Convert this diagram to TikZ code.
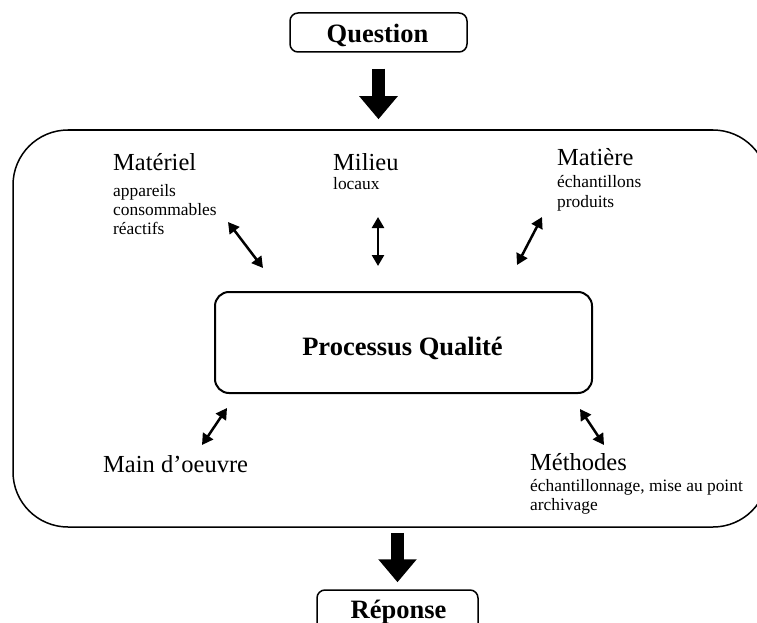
\documentclass[tikz,border=0pt]{standalone}
\usepackage{fontspec}
\setmainfont{Liberation Serif}
\usetikzlibrary{arrows.meta}
\tikzset{
  boxline/.style={draw, line width=1.5pt, inner sep=0pt},
  titletxt/.style={anchor=base, inner sep=0pt, font=\fontsize{26.5}{28}\selectfont\bfseries},
  maintxt/.style={anchor=base west, inner sep=0pt, font=\fontsize{24.5}{26}\selectfont},
  subtxt/.style={anchor=base west, inner sep=0pt, font=\fontsize{17.4}{19}\selectfont},
  bigarrow/.style={-{Triangle[length=23pt,width=37pt]}, line width=12.5pt},
  dblarrow/.style={{Triangle[length=11pt,width=12pt]}-{Triangle[length=11pt,width=12pt]}, line width=2.5pt}
}
\begin{document}
\begin{tikzpicture}[x=1pt,y=-1pt]
\useasboundingbox (0,0) rectangle (757,623);
\clip (0,0) rectangle (757,623);
\fill[white] (0,0) rectangle (757,623);

% boxes
\node[boxline, rounded corners=8pt, minimum width=177pt, minimum height=39pt] (q) at (378.5,32.5) {};
\node[titletxt] (qt) at (377.5,43) {Question};

\node[boxline, rounded corners=55pt, minimum width=755pt, minimum height=397pt] (big) at (390.5,328.5) {};

\node[draw, line width=2pt, inner sep=0pt, rounded corners=14pt, minimum width=377pt, minimum height=101pt] (pq) at (403.5,342.5) {};
\node[titletxt] (pqt) at (402.5,355) {Processus Qualité};

\node[boxline, rounded corners=8pt, minimum width=161pt, minimum height=44pt] (rep) at (397.5,612) {};
\node[titletxt] (rept) at (398.5,618) {Réponse};

% big arrows
\draw[bigarrow, shorten <=16pt, shorten >=10pt] (q.south) -- (q.south |- big.north);
\draw[bigarrow, shorten <=5pt, shorten >=7pt] (rep.north |- big.south) -- (rep.north);

% labels
\node[maintxt] (mat) at (113,170) {Matériel};
\node[subtxt] (mat1) at (113,196) {appareils};
\node[subtxt] (mat2) at (113,215) {consommables};
\node[subtxt] (mat3) at (113,234) {réactifs};

\node[maintxt] (mil) at (333,170) {Milieu};
\node[subtxt] (mil1) at (333,189) {locaux};

\node[maintxt] (mati) at (557,165) {Matière};
\node[subtxt] (mati1) at (557,187) {échantillons};
\node[subtxt] (mati2) at (557,207) {produits};

\node[maintxt] (main) at (103,472) {Main d’oeuvre};

\node[maintxt] (meth) at (530,470) {Méthodes};
\node[subtxt] (meth1) at (530,491) {échantillonnage, mise au point};
\node[subtxt] (meth2) at (530,510) {archivage};

% double arrows
\coordinate (a1) at (228,222); \coordinate (b1) at (263,268);
\coordinate (a2) at (378,217); \coordinate (b2) at (378,266);
\coordinate (a3) at (542,217); \coordinate (b3) at (517,265);
\coordinate (a4) at (227,408); \coordinate (b4) at (202,445);
\coordinate (a5) at (580,409); \coordinate (b5) at (604,445);
\draw[dblarrow] (a1) -- (b1);
\draw[dblarrow] (a2) -- (b2);
\draw[dblarrow] (a3) -- (b3);
\draw[dblarrow] (a4) -- (b4);
\draw[dblarrow] (a5) -- (b5);
\end{tikzpicture}
\end{document}
